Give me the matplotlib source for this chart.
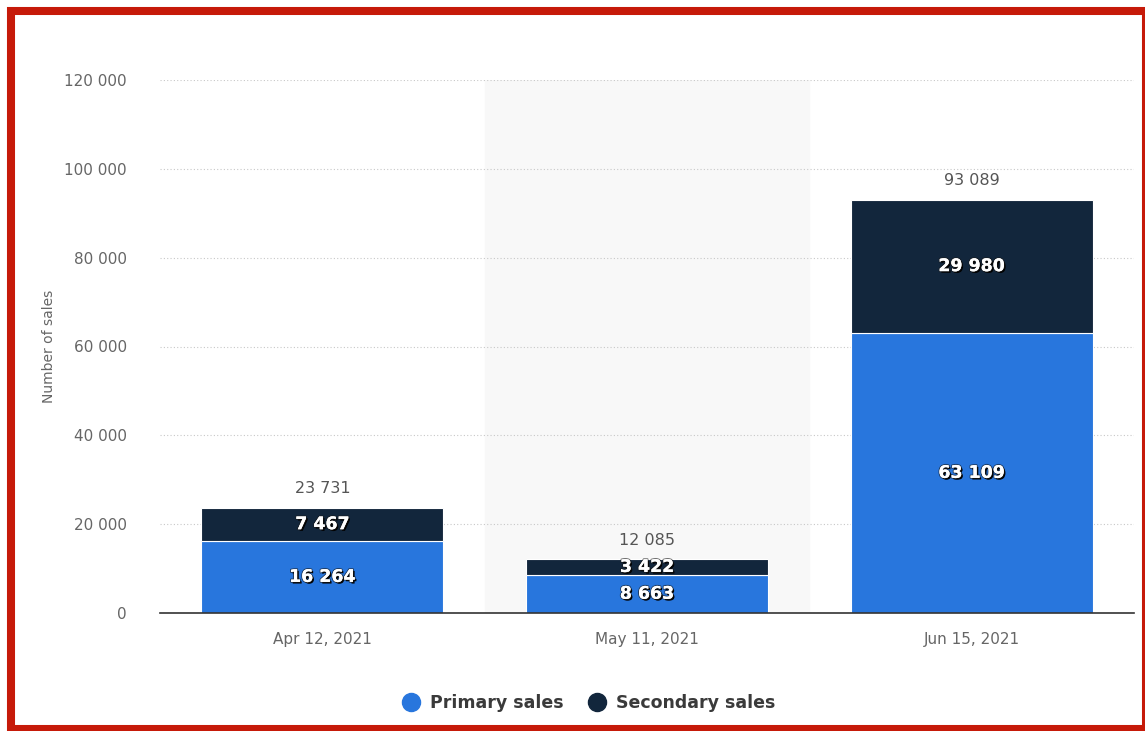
import numpy as np
import matplotlib.pyplot as plt
import matplotlib.patheffects as pe
from matplotlib.patches import Rectangle
from matplotlib.lines import Line2D

dates = ["Apr 12, 2021", "May 11, 2021", "Jun 15, 2021"]
primary = [16264, 8663, 63109]
secondary = [7467, 3422, 29980]
totals = [23731, 12085, 93089]

c_primary = "#2876dd"
c_secondary = "#12263c"


def fmt(v):
    return "{:,}".format(v).replace(",", " ")


fig = plt.figure(figsize=(11.45, 7.31), dpi=100)
ax = fig.add_axes([160 / 1145, 1 - 613 / 731, (1134 - 160) / 1145, (613 - 80) / 731])

x = np.arange(len(dates))
w = 0.745

# highlighted middle band
ax.axvspan(0.5, 1.5, color="#f8f8f8", zorder=0)

ax.bar(x, primary, w, color=c_primary, edgecolor="white", linewidth=0.8, zorder=3)
ax.bar(x, secondary, w, bottom=primary, color=c_secondary, edgecolor="white",
       linewidth=0.8, zorder=3)

shadow = [pe.withSimplePatchShadow(offset=(1.2, -1.2), shadow_rgbFace="black", alpha=1.0),
          pe.withStroke(linewidth=1.5, foreground="#1a1a1a", alpha=0.6),
          pe.Normal()]
for i in range(len(dates)):
    ax.text(x[i], primary[i] / 2, fmt(primary[i]), ha="center", va="center",
            color="white", fontsize=12.5, fontweight="bold", zorder=5,
            path_effects=shadow)
    ax.text(x[i], primary[i] + secondary[i] / 2, fmt(secondary[i]), ha="center",
            va="center", color="white", fontsize=12.5, fontweight="bold", zorder=5,
            path_effects=shadow)
    ax.annotate(fmt(totals[i]), (x[i], totals[i]), xytext=(0, 8),
                textcoords="offset points", ha="center", va="bottom",
                color="#555555", fontsize=11.5)

ax.set_xlim(-0.5, 2.5)
ax.set_ylim(0, 120000)
ax.set_yticks(np.arange(0, 120001, 20000))
ax.set_yticklabels([fmt(v) for v in range(0, 120001, 20000)])
ax.set_xticks(x)
ax.set_xticklabels(dates)
ax.tick_params(axis="both", length=0, colors="#666666", labelsize=11)
ax.tick_params(axis="y", pad=24)
ax.tick_params(axis="x", pad=14)
ax.grid(axis="y", linestyle=(0, (1, 2)), color="#c8c8c8", linewidth=0.8, zorder=1)
for s in ["top", "right", "left"]:
    ax.spines[s].set_visible(False)
ax.spines["bottom"].set_color("#333333")
ax.spines["bottom"].set_linewidth(1.2)
ax.spines["bottom"].set_zorder(4)
ax.set_ylabel("Number of sales", color="#666666", fontsize=10, labelpad=6)

handles = [Line2D([], [], marker="o", ls="", markersize=13, color=c_primary),
           Line2D([], [], marker="o", ls="", markersize=13, color=c_secondary)]
leg = fig.legend(handles, ["Primary sales", "Secondary sales"], loc="center",
                 bbox_to_anchor=(588 / 1145, 1 - 703 / 731), ncol=2, frameon=False,
                 handletextpad=0.5, columnspacing=1.3, handlelength=1.2,
                 prop={"size": 12.5, "weight": "bold"})
for t in leg.get_texts():
    t.set_color("#3a3a3a")

fig.patches.append(Rectangle((11 / 1145, 2 / 731), (1145.5 - 11) / 1145, (720 - 2) / 731,
                             transform=fig.transFigure, fill=False,
                             edgecolor="#c61a09", linewidth=5.8))

fig.savefig("out.png", dpi=100)
